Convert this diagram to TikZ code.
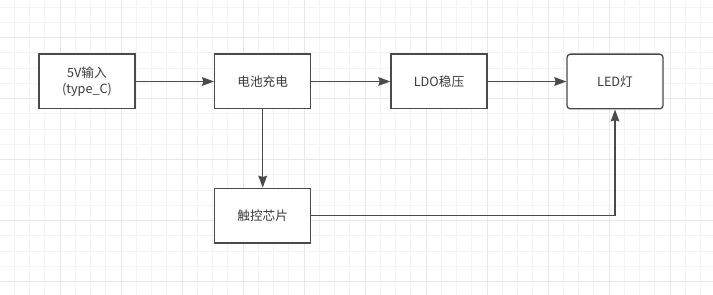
\documentclass[tikz,border=0pt]{standalone}
\usepackage{fontspec}
\setmainfont{Noto Sans CJK SC}
\usetikzlibrary{arrows.meta}
\definecolor{gridminor}{HTML}{F4F4F4}
\definecolor{gridmajor}{HTML}{E8E8E8}
\definecolor{boxline}{HTML}{4A4A4A}
\definecolor{txt}{HTML}{3A3A3A}
\begin{document}
\begin{tikzpicture}[x=0.75pt,y=-0.75pt,
  blk/.style={draw=boxline,line width=1pt,fill=white,minimum width=72pt,minimum height=41pt,
    inner sep=0pt,align=center,text=txt,font=\fontsize{9.5pt}{11.5pt}\selectfont},
  conn/.style={draw=boxline,line width=1pt,-{Stealth[length=9pt,width=6.5pt,inset=1pt]}},
  plain/.style={draw=boxline,line width=1pt}]
\useasboundingbox (0,0) rectangle (713,295);
\fill[white] (0,0) rectangle (713,295);
\foreach \k in {0,...,47} {
  \draw[gridminor,line width=0.75pt] ({-1+15.25*\k},0) -- ({-1+15.25*\k},295);
}
\foreach \k in {0,...,19} {
  \draw[gridminor,line width=0.75pt] (0,{7.2+15.25*\k}) -- (713,{7.2+15.25*\k});
}
\foreach \k in {0,...,10} {
  \draw[gridmajor,line width=0.75pt] ({60+61*\k},0) -- ({60+61*\k},295);
}
\foreach \k in {0,...,4} {
  \draw[gridmajor,line width=0.75pt] (0,{37.7+61*\k}) -- (713,{37.7+61*\k});
}
\node[blk] (in) at (87,81.5) {5V输入\\(type\_C)};
\node[blk] (charge) at (262.7,81.5) {电池充电};
\node[blk] (ldo) at (439,81.5) {LDO稳压};
\node[blk,rounded corners=2.5pt] (led) at (615,81.5) {LED灯};
\node[blk] (touch) at (262.7,215.7) {触控芯片};
\draw[conn] (in) -- (charge);
\draw[conn] (charge) -- (ldo);
\draw[conn] (ldo) -- (led);
\draw[conn] (charge) -- (touch);
\draw[conn] (touch.east) -| (led.south);
\end{tikzpicture}
\end{document}
